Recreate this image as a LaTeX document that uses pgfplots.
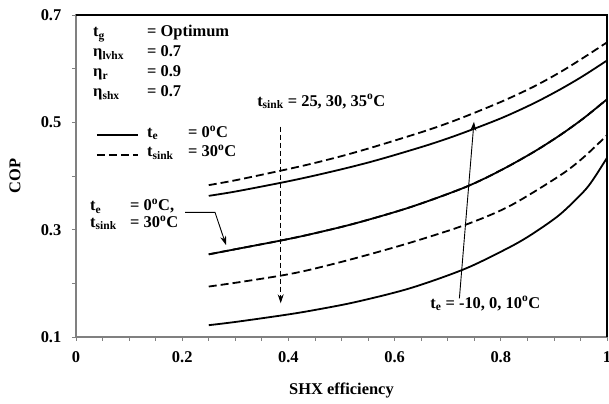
\documentclass[border=0pt]{standalone}
\usepackage{fontspec}
\setmainfont{Liberation Serif}
\usepackage{pgfplots}
\pgfplotsset{compat=1.18}
\usetikzlibrary{arrows.meta}
\newcommand{\dg}{\textsuperscript{o}}
\newcommand{\fnt}{\fontsize{16.5}{19}\selectfont\bfseries}
\begin{document}
\fnt
\begin{tikzpicture}
\begin{axis}[name=ax, scale only axis, width=531bp, height=322bp,
  xmin=0, xmax=1, ymin=0.1, ymax=0.7, clip=false,
  xtick={0,0.2,0.4,0.6,0.8,1}, xticklabels={0,0.2,0.4,0.6,0.8,1},
  ytick={0.1,0.3,0.5,0.7}, yticklabels={0.1,0.3,0.5,0.7},
  minor x tick num=3, minor y tick num=1,
  tick align=outside, xtick pos=left, ytick pos=left,
  major tick length=4bp, minor tick length=4bp,
  every tick/.style={black!50, line width=0.8bp},
  axis line style={black!50, line width=2bp},
  ticklabel style={font=\fnt},
  yticklabel style={xshift=-5bp},
  xticklabel style={yshift=-5bp},
  label style={font=\fnt},
  xlabel={SHX efficiency}, ylabel={COP},
  xlabel style={at={(axis description cs:0.5,-0.165)}, anchor=center},
  ylabel style={at={(axis description cs:-0.115,0.5)}, anchor=center},
]
\draw[black, line width=2.5bp] (rel axis cs:0,1) -- (rel axis cs:1,1) -- (rel axis cs:1,0);
% t_sink = 25 (te = 0)
\addplot[black, line width=1.8bp, dash pattern=on 8bp off 4bp, smooth] coordinates {
(0.25,0.383)(0.3,0.392)(0.386,0.410)(0.44,0.422)(0.5,0.437)(0.55,0.451)(0.6,0.466)(0.667,0.487)(0.723,0.507)(0.8,0.538)(0.861,0.566)(0.911,0.593)(0.955,0.620)(1.0,0.649)};
% te = 10 (tsink = 30)
\addplot[black, line width=1.8bp, smooth] coordinates {
(0.25,0.363)(0.3,0.371)(0.386,0.3874)(0.44,0.3987)(0.5,0.4125)(0.55,0.425)(0.6,0.439)(0.667,0.4591)(0.723,0.4781)(0.8,0.5074)(0.861,0.5349)(0.911,0.5609)(0.955,0.5864)(1.0,0.6152)};
% te = 0, tsink = 30 (solid)
\addplot[black, line width=1.8bp, smooth] coordinates {
(0.25,0.254)(0.3,0.2635)(0.386,0.2798)(0.44,0.2911)(0.525,0.3115)(0.629,0.3417)(0.733,0.3791)(0.8,0.4106)(0.861,0.4442)(0.911,0.4757)(0.955,0.5069)(1.0,0.5429)};
% te = 0, tsink = 30 (dashed)
\addplot[black, line width=1.8bp, dash pattern=on 8bp off 4bp, smooth] coordinates {
(0.25,0.254)(0.3,0.2635)(0.386,0.2798)(0.44,0.2911)(0.525,0.3115)(0.629,0.3417)(0.733,0.3791)(0.8,0.4106)(0.861,0.4442)(0.911,0.4757)(0.955,0.5069)(1.0,0.5429)};
% tsink = 35 (te = 0)
\addplot[black, line width=1.8bp, dash pattern=on 8bp off 4bp, smooth] coordinates {
(0.25,0.194)(0.3,0.201)(0.386,0.2144)(0.44,0.2252)(0.525,0.2465)(0.629,0.2756)(0.733,0.3089)(0.817,0.3442)(0.911,0.4006)(0.955,0.434)(1.0,0.4759)};
% te = -10 (tsink = 30)
\addplot[black, line width=1.8bp, smooth] coordinates {
(0.25,0.122)(0.3,0.128)(0.386,0.140)(0.44,0.1486)(0.525,0.1648)(0.629,0.1908)(0.733,0.2272)(0.817,0.2675)(0.861,0.293)(0.911,0.328)(0.955,0.3698)(0.974,0.3936)(1.0,0.4339)};

% parameter block
\node[anchor=base west, inner sep=0pt] at (axis cs:0.032,0.659) {t\textsubscript{g}};
\node[anchor=base west, inner sep=0pt] at (axis cs:0.1337,0.659) {= Optimum};
\node[anchor=base west, inner sep=0pt] at (axis cs:0.032,0.622) {η\textsubscript{lvhx}};
\node[anchor=base west, inner sep=0pt] at (axis cs:0.1337,0.622) {= 0.7};
\node[anchor=base west, inner sep=0pt] at (axis cs:0.032,0.585) {η\textsubscript{r}};
\node[anchor=base west, inner sep=0pt] at (axis cs:0.1337,0.585) {= 0.9};
\node[anchor=base west, inner sep=0pt] at (axis cs:0.032,0.548) {η\textsubscript{shx}};
\node[anchor=base west, inner sep=0pt] at (axis cs:0.1337,0.548) {= 0.7};
% legend
\draw[black, line width=1.8bp] (axis cs:0.0395,0.4764) -- (axis cs:0.1168,0.4764);
\draw[black, line width=1.8bp, dash pattern=on 8bp off 4bp] (axis cs:0.0395,0.439) -- (axis cs:0.1168,0.439);
\node[anchor=base west, inner sep=0pt] at (axis cs:0.1337,0.472) {t\textsubscript{e}};
\node[anchor=base west, inner sep=0pt] at (axis cs:0.211,0.472) {= 0\dg C};
\node[anchor=base west, inner sep=0pt] at (axis cs:0.1337,0.436) {t\textsubscript{sink}};
\node[anchor=base west, inner sep=0pt] at (axis cs:0.211,0.436) {= 30\dg C};
% tsink annotation
\node[anchor=base west, inner sep=0pt] at (axis cs:0.341,0.530) {t\textsubscript{sink} = 25, 30, 35\dg C};
\draw[black, line width=0.9bp, dash pattern=on 5bp off 3bp, -{Stealth[length=9bp,width=6bp]}] (axis cs:0.3855,0.4918) -- (axis cs:0.3855,0.1628);
% te=0,tsink=30 annotation
\node[anchor=base west, inner sep=0pt] at (axis cs:0.0264,0.3348) {t\textsubscript{e}};
\node[anchor=base west, inner sep=0pt] at (axis cs:0.1017,0.3348) {= 0\dg C,};
\node[anchor=base west, inner sep=0pt] at (axis cs:0.0264,0.3044) {t\textsubscript{sink}};
\node[anchor=base west, inner sep=0pt] at (axis cs:0.1017,0.3044) {= 30\dg C};
\draw[black, line width=0.9bp, -{Stealth[length=9bp,width=6bp]}] (axis cs:0.2053,0.3323) -- (axis cs:0.2618,0.3323) -- (axis cs:0.2825,0.2714);
% te annotation
\node[anchor=base west, inner sep=0pt] at (axis cs:0.667,0.154) {t\textsubscript{e} = -10, 0, 10\dg C};
\draw[black, line width=0.9bp, -{Stealth[length=9bp,width=6bp]}] (axis cs:0.722,0.172) -- (axis cs:0.7495,0.501);
\end{axis}
\pgfresetboundingbox
\useasboundingbox ([shift={(-76bp,-67bp)}]ax.south west) rectangle ([shift={(2bp,15bp)}]ax.north east);
\end{tikzpicture}
\end{document}
